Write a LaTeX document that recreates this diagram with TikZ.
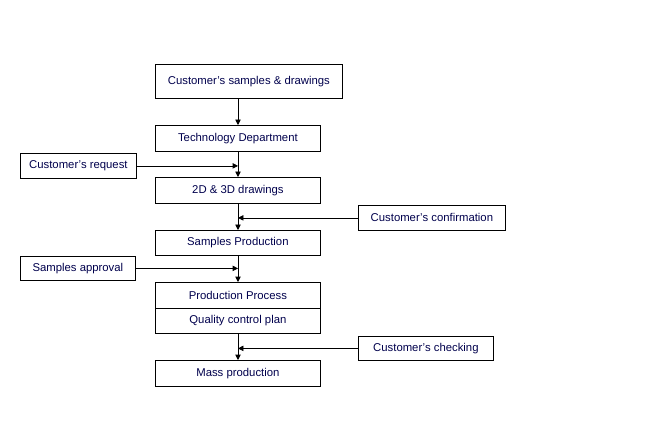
\documentclass[tikz,border=0pt]{standalone}
\usepackage{fontspec}
\setmainfont{Liberation Sans}
\usetikzlibrary{arrows.meta}
\begin{document}
\begin{tikzpicture}[x=0.75pt,y=-0.75pt,
  bx/.style={draw=black,line width=0.6pt,inner sep=0pt,font=\fontsize{8.5}{10}\selectfont,text=black!70!blue},
  ar/.style={-{Triangle[length=4pt,width=4pt]},line width=0.5pt}]
\useasboundingbox (0,0) rectangle (658,435);
\newcommand\bx[6]{\node[bx,minimum width=#4*0.75pt-#2*0.75pt,minimum height=#5*0.75pt-#3*0.75pt,anchor=north west] (#1) at (#2,#3) {#6};}
\bx{a}{155}{64}{342}{98}{Customer’s samples \& drawings}
\bx{b}{155}{125}{320}{151}{Technology Department}
\bx{r}{20}{153}{136}{178}{Customer’s request}
\bx{c}{155}{177}{320}{203}{2D \& 3D drawings}
\bx{f}{358}{205}{505}{230}{Customer’s confirmation}
\bx{d}{155}{230}{320}{255}{Samples Production}
\bx{s}{20}{256}{135}{280}{Samples approval}
\bx{e}{155}{282}{320}{308}{Production Process}
\bx{q}{155}{308}{320}{333}{Quality control plan}
\bx{k}{358}{336}{493}{360}{Customer’s checking}
\bx{m}{155}{360}{320}{386}{Mass production}
\draw[ar] (a.south -| 238,0) -- (b.north -| 238,0);
\draw[ar] (b.south -| 238,0) -- (c.north -| 238,0);
\draw[ar] (c.south -| 238,0) -- (d.north -| 238,0);
\draw[ar] (d.south -| 238,0) -- (e.north -| 238,0);
\draw[ar] (q.south -| 238,0) -- (m.north -| 238,0);
\draw[ar] (r.east) -- (r.east -| 238,0);
\draw[ar] (f.west) -- (f.west -| 238,0);
\draw[ar] (s.east) -- (s.east -| 238,0);
\draw[ar] (k.west) -- (k.west -| 238,0);
\end{tikzpicture}
\end{document}
